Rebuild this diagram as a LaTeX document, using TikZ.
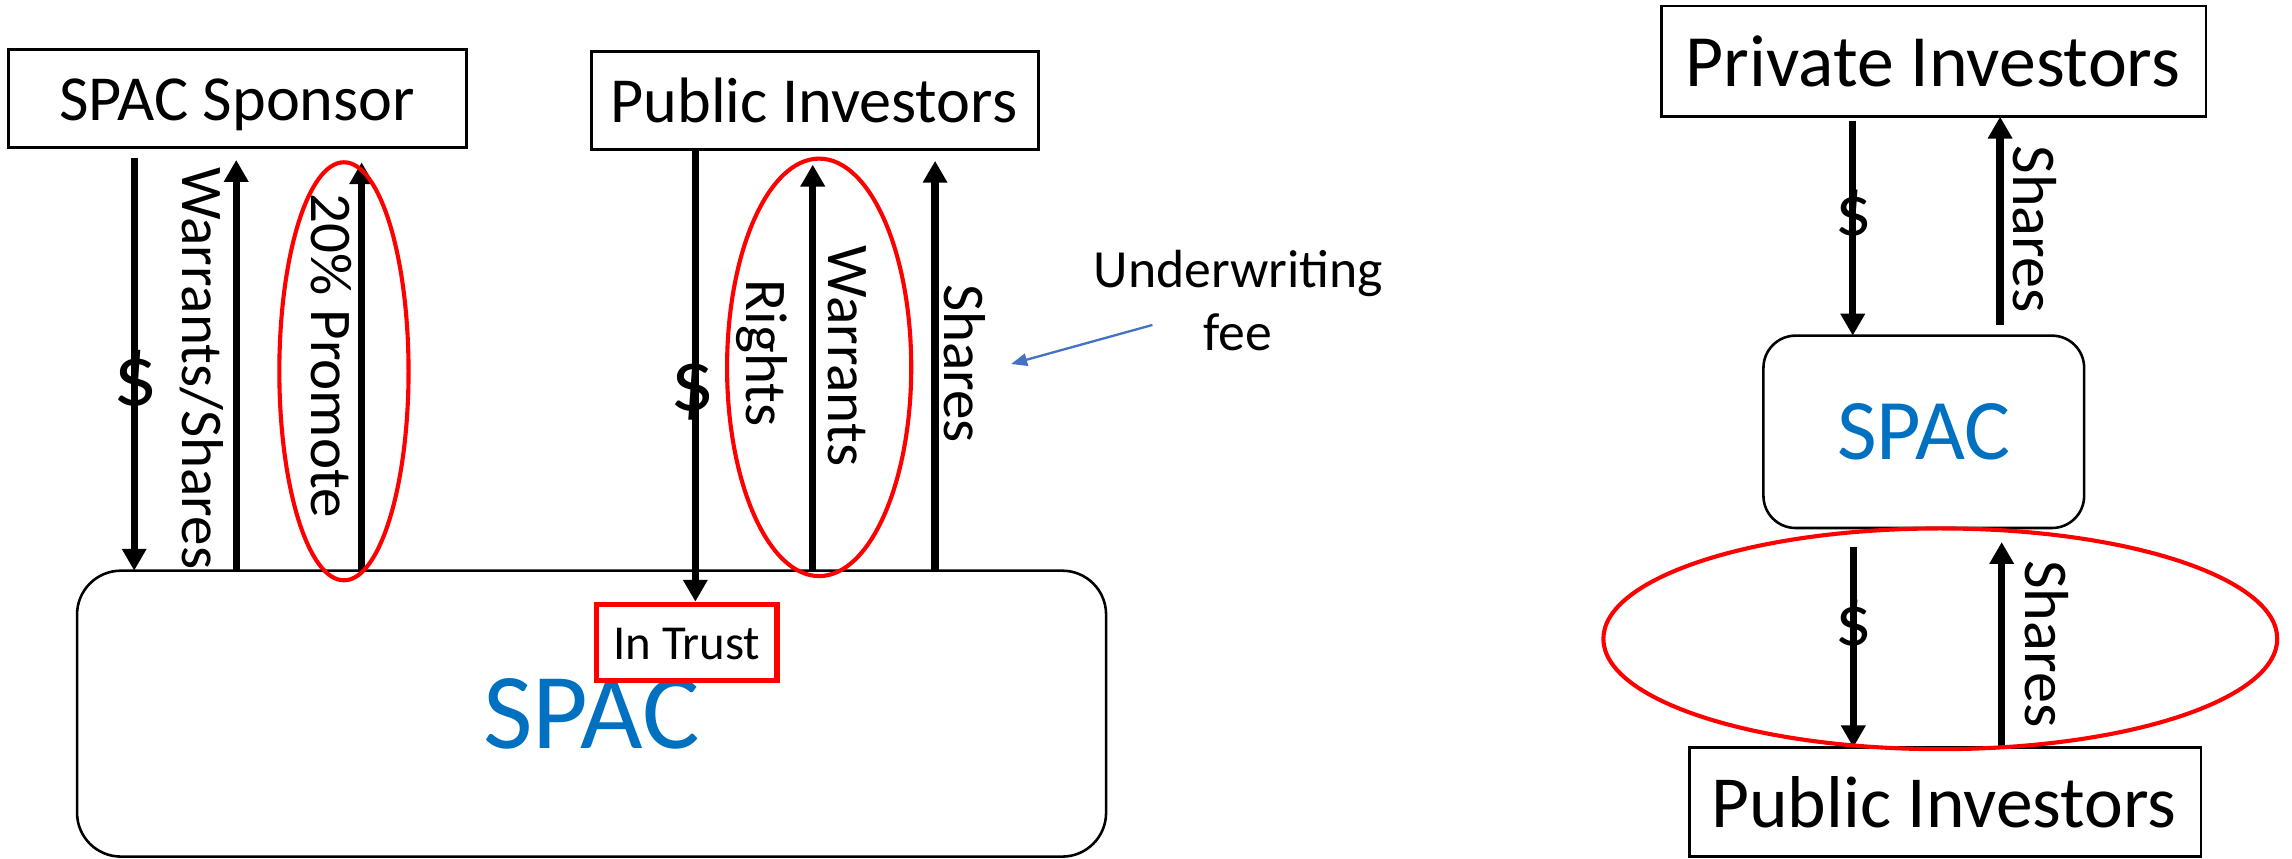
\documentclass[tikz,border=0pt]{standalone}
\usepackage{fontspec}
\setmainfont{Carlito}
\usetikzlibrary{arrows.meta}
\definecolor{spacblue}{HTML}{0070C0}
\definecolor{hilite}{HTML}{FF0000}
\definecolor{notearrow}{HTML}{4472C4}
\newcommand{\fsz}[1]{\fontsize{#1pt}{#1pt}\selectfont}

\begin{document}
\begin{tikzpicture}[x=0.1mm, y=-0.1mm,
  box/.style={draw=black, line width=0.5pt, rectangle, inner sep=0pt, outer sep=0pt},
  rbox/.style={box, rounded corners=#1},
  txt/.style={anchor=base, inner sep=0pt},
  flow/.style={line width=0.5mm, -{Triangle[length=1.5mm,width=1.6mm]}},
  ring/.style={draw=hilite, line width=0.8pt},
  vlabel/.style={rotate=-90, inner sep=0pt, font=\fsz{11.5}},
  dollar/.style={inner sep=0pt, font=\fsz{17}},
  note/.style={draw=notearrow, line width=0.45pt, -{Triangle[length=1.1mm,width=0.85mm]}}
]
\useasboundingbox (0,0) rectangle (1568,587);

% ---------- left panel: formation of the SPAC ----------
\node[box, minimum width=31.3mm, minimum height=6.7mm] (sponsor) at (162.5,67.5) {};
\node[txt, font=\fsz{12.5}] (sponsortxt) at (162.3,82.5) {SPAC Sponsor};

\node[box, minimum width=30.6mm, minimum height=6.7mm] (pubL) at (557.5,68.8) {};
\node[txt, font=\fsz{12.5}] (pubLtxt) at (556.8,83.8) {Public Investors};

\node[rbox=3mm, minimum width=70.4mm, minimum height=19.56mm,
      text=spacblue, font=\fsz{21}] (spacL) at (404.7,488.2) {SPAC};

\node[draw=hilite, line width=1.1pt, fill=white, rectangle, inner sep=0pt,
      minimum width=12.36mm, minimum height=5.19mm] (trust) at (469.8,439.5) {};
\node[txt, font=\fsz{9.5}] (trusttxt) at (469.8,451) {In Trust};

% money and securities flows
\coordinate (c1) at (91.8,108);
\coordinate (c2) at (161.6,109.4);
\coordinate (c3) at (247.4,111);
\coordinate (c4) at (475.7,0);
\coordinate (c5) at (556,112.6);
\coordinate (c6) at (639.7,110);
\draw[flow] (c1) -- (c1 |- spacL.north);
\draw[flow] (c2 |- spacL.north) -- (c2);
\draw[flow] (c3 |- spacL.north) -- (c3);
\draw[flow] (c4 |- pubL.south) -- (c4 |- trust.north);
\draw[flow] (c5 |- spacL.north) -- (c5);
\draw[flow] (c6 |- spacL.north) -- (c6);

\node[dollar] (d1) at (92.8,261.7) {\$};
\node[dollar] (d2) at (474,265.6) {\$};
\node[vlabel] (lws) at (138,251.8) {Warrants/Shares};
\node[vlabel] (lpr) at (226.8,243.4) {20\% Promote};
\node[vlabel] (lrt) at (521,241.7) {Rights};
\node[vlabel] (lwr) at (579.8,243.5) {Warrants};
\node[vlabel] (lsh) at (659.8,248.7) {Shares};

\draw[ring] (235.3,254) ellipse [x radius=44.2, y radius=143];
\draw[ring] (560.4,251.3) ellipse [x radius=63, y radius=142.8];

% underwriting fee note
\node[txt, font=\fsz{10.45}] (uw1) at (847.2,196.6) {Underwriting};
\node[txt, font=\fsz{10.45}] (uw2) at (846.6,239.5) {fee};
\coordinate (noteA) at (788.4,222.3);
\coordinate (noteB) at (691.7,249);
\draw[note] (noteA) -- (noteB);

% ---------- right panel: PIPE and redemption ----------
\node[box, minimum width=37.24mm, minimum height=7.57mm] (priv) at (1323,41.95) {};
\node[txt, font=\fsz{14.35}] (privtxt) at (1322.3,59.3) {Private Investors};

\node[rbox=2.2mm, minimum width=21.94mm, minimum height=13.16mm,
      text=spacblue, font=\fsz{16.8}] (spacR) at (1316.1,295.4) {SPAC};

\node[box, minimum width=35.01mm, minimum height=7.46mm] (pubR) at (1330.75,548.6) {};
\node[txt, font=\fsz{14.3}] (pubRtxt) at (1329.9,566) {Public Investors};

\coordinate (c7) at (1267.5,82.8);
\coordinate (c8) at (1368.3,222.3);
\coordinate (c9) at (1267.9,374.2);
\coordinate (c10) at (1369.4,370.8);
\draw[flow] (c7) -- (c7 |- spacR.north);
\draw[flow] (c8) -- (c8 |- priv.south);
\draw[flow] (c9) -- (c9 |- pubR.north);
\draw[flow] (c10 |- pubR.north) -- (c10);

\node[dollar, font=\fsz{14}] (d3) at (1268.5,148.2) {\$};
\node[dollar, font=\fsz{14}] (d4) at (1268,429) {\$};
\node[vlabel, font=\fsz{12.1}] (rsh1) at (1392.2,156.8) {Shares};
\node[vlabel, font=\fsz{12.1}] (rsh2) at (1400.2,440.5) {Shares};

\draw[ring] (1327.4,437) ellipse [x radius=230.5, y radius=75.5];
\end{tikzpicture}
\end{document}
